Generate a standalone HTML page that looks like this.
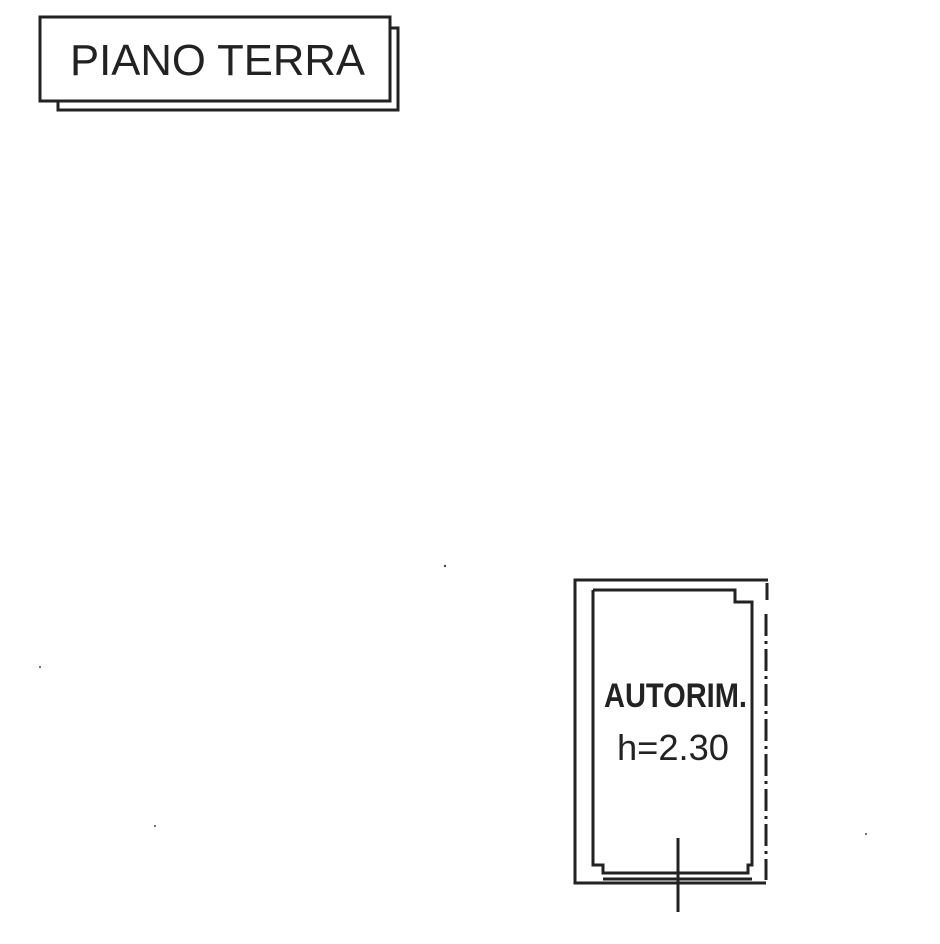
<!DOCTYPE html>
<html><head><meta charset="utf-8"><style>
html,body{margin:0;padding:0;background:#fff;}
svg{display:block}
text{font-family:"Liberation Sans",sans-serif;fill:#222}
</style></head><body>
<svg width="940" height="944" viewBox="0 0 940 944" xmlns="http://www.w3.org/2000/svg">
<g fill="none" stroke="#222" stroke-width="3">
<rect x="40" y="17" width="350" height="84"/>
<polyline points="391,28 398,28 398,110 58,110 58,101"/>
</g>
<text x="70" y="75" font-size="44" textLength="295" lengthAdjust="spacingAndGlyphs">PIANO  TERRA</text>

<g fill="none" stroke="#222" stroke-width="3">
<polyline points="768,580 575,580 575,883 766,883"/>
<polyline points="593,590 735,590 735,602 752,602 752,865 748,865 748,873 603,873 603,865 593,865 593,590"/>
<line x1="603" y1="879" x2="752" y2="879"/>
<line x1="767" y1="583" x2="767" y2="600"/>
<line x1="766" y1="614" x2="766" y2="880" stroke-dasharray="22,5,3,5"/>
<line x1="678" y1="838" x2="678" y2="912"/>
</g>
<text x="604" y="707" font-size="34" font-weight="bold" textLength="143" lengthAdjust="spacingAndGlyphs">AUTORIM.</text>
<text x="617" y="760" font-size="36" textLength="112" lengthAdjust="spacingAndGlyphs">h=2.30</text>
<g fill="#444">
<circle cx="445" cy="566" r="1.2"/><circle cx="40" cy="667" r="1"/><circle cx="155" cy="826" r="1"/><circle cx="866" cy="834" r="1"/>
</g>
</svg>
</body></html>
